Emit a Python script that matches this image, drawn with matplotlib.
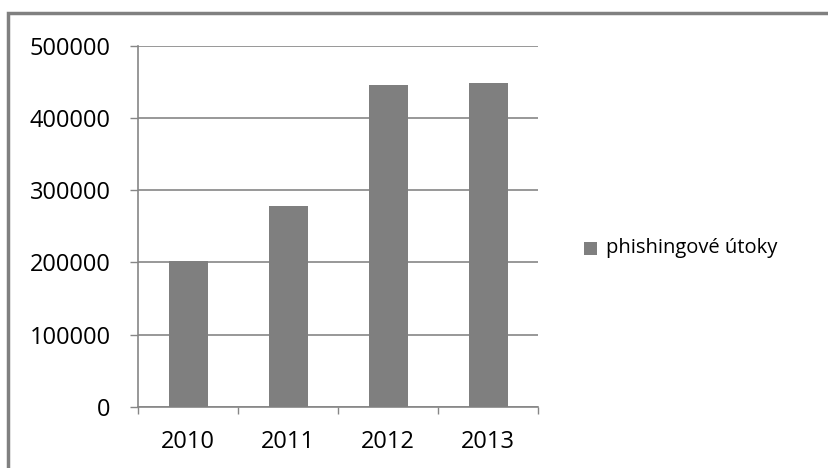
import matplotlib
matplotlib.use('Agg')
import matplotlib.pyplot as plt
from matplotlib.patches import Rectangle

years = ['2010', '2011', '2012', '2013']
attacks = [202000, 278000, 446000, 449000]
series_name = 'phishingové útoky'
y_ticks = [0, 100000, 200000, 300000, 400000, 500000]

grey = '#868686'
bar_color = '#7f7f7f'

plt.rcParams['font.family'] = ['Open Sans', 'DejaVu Sans']

fig = plt.figure(figsize=(8.29, 4.68), dpi=100)
fig.patch.set_facecolor('white')

# outer chart frame (right and bottom fall outside the canvas)
fig.patches.append(Rectangle((8 / 829, -0.1), 1.1, 1 - 13 / 468 + 0.1,
                             transform=fig.transFigure, fill=False,
                             edgecolor='#808080', linewidth=2.5))

ax = fig.add_axes([138.3 / 829, 1 - 406.7 / 468, 400 / 829, 360.7 / 468])
x = range(len(years))
ax.bar(x, attacks, width=0.39, color=bar_color, zorder=3)

ax.set_xlim(-0.5, len(years) - 0.5)
ax.set_ylim(0, 500000)
ax.set_yticks(y_ticks)
ax.set_yticklabels([str(v) for v in y_ticks])
ax.set_xticks(x)
ax.set_xticklabels(years)
ax.yaxis.grid(True, color=grey, linewidth=1.2, zorder=0)

# category boundary ticks on the x axis
ax.set_xticks([i - 0.5 for i in range(len(years) + 1)], minor=True)
ax.tick_params(axis='x', which='major', length=0, pad=17, labelsize=17)
ax.tick_params(axis='x', which='minor', length=5, width=1, color=grey, direction='out')
ax.tick_params(axis='y', length=6, width=1, color=grey, pad=14, labelsize=17)

for side in ['top', 'right']:
    ax.spines[side].set_visible(False)
for side in ['left', 'bottom']:
    ax.spines[side].set_color(grey)
    ax.spines[side].set_linewidth(1.2)

# legend entry
fig.patches.append(Rectangle((584 / 829, 1 - 255 / 468), 13 / 829, 13 / 468,
                             transform=fig.transFigure, facecolor=bar_color,
                             edgecolor='none'))
fig.text(606 / 829, 1 - 253 / 468, series_name, fontsize=14.5, va='baseline', ha='left')

fig.savefig('out.png', dpi=100)
